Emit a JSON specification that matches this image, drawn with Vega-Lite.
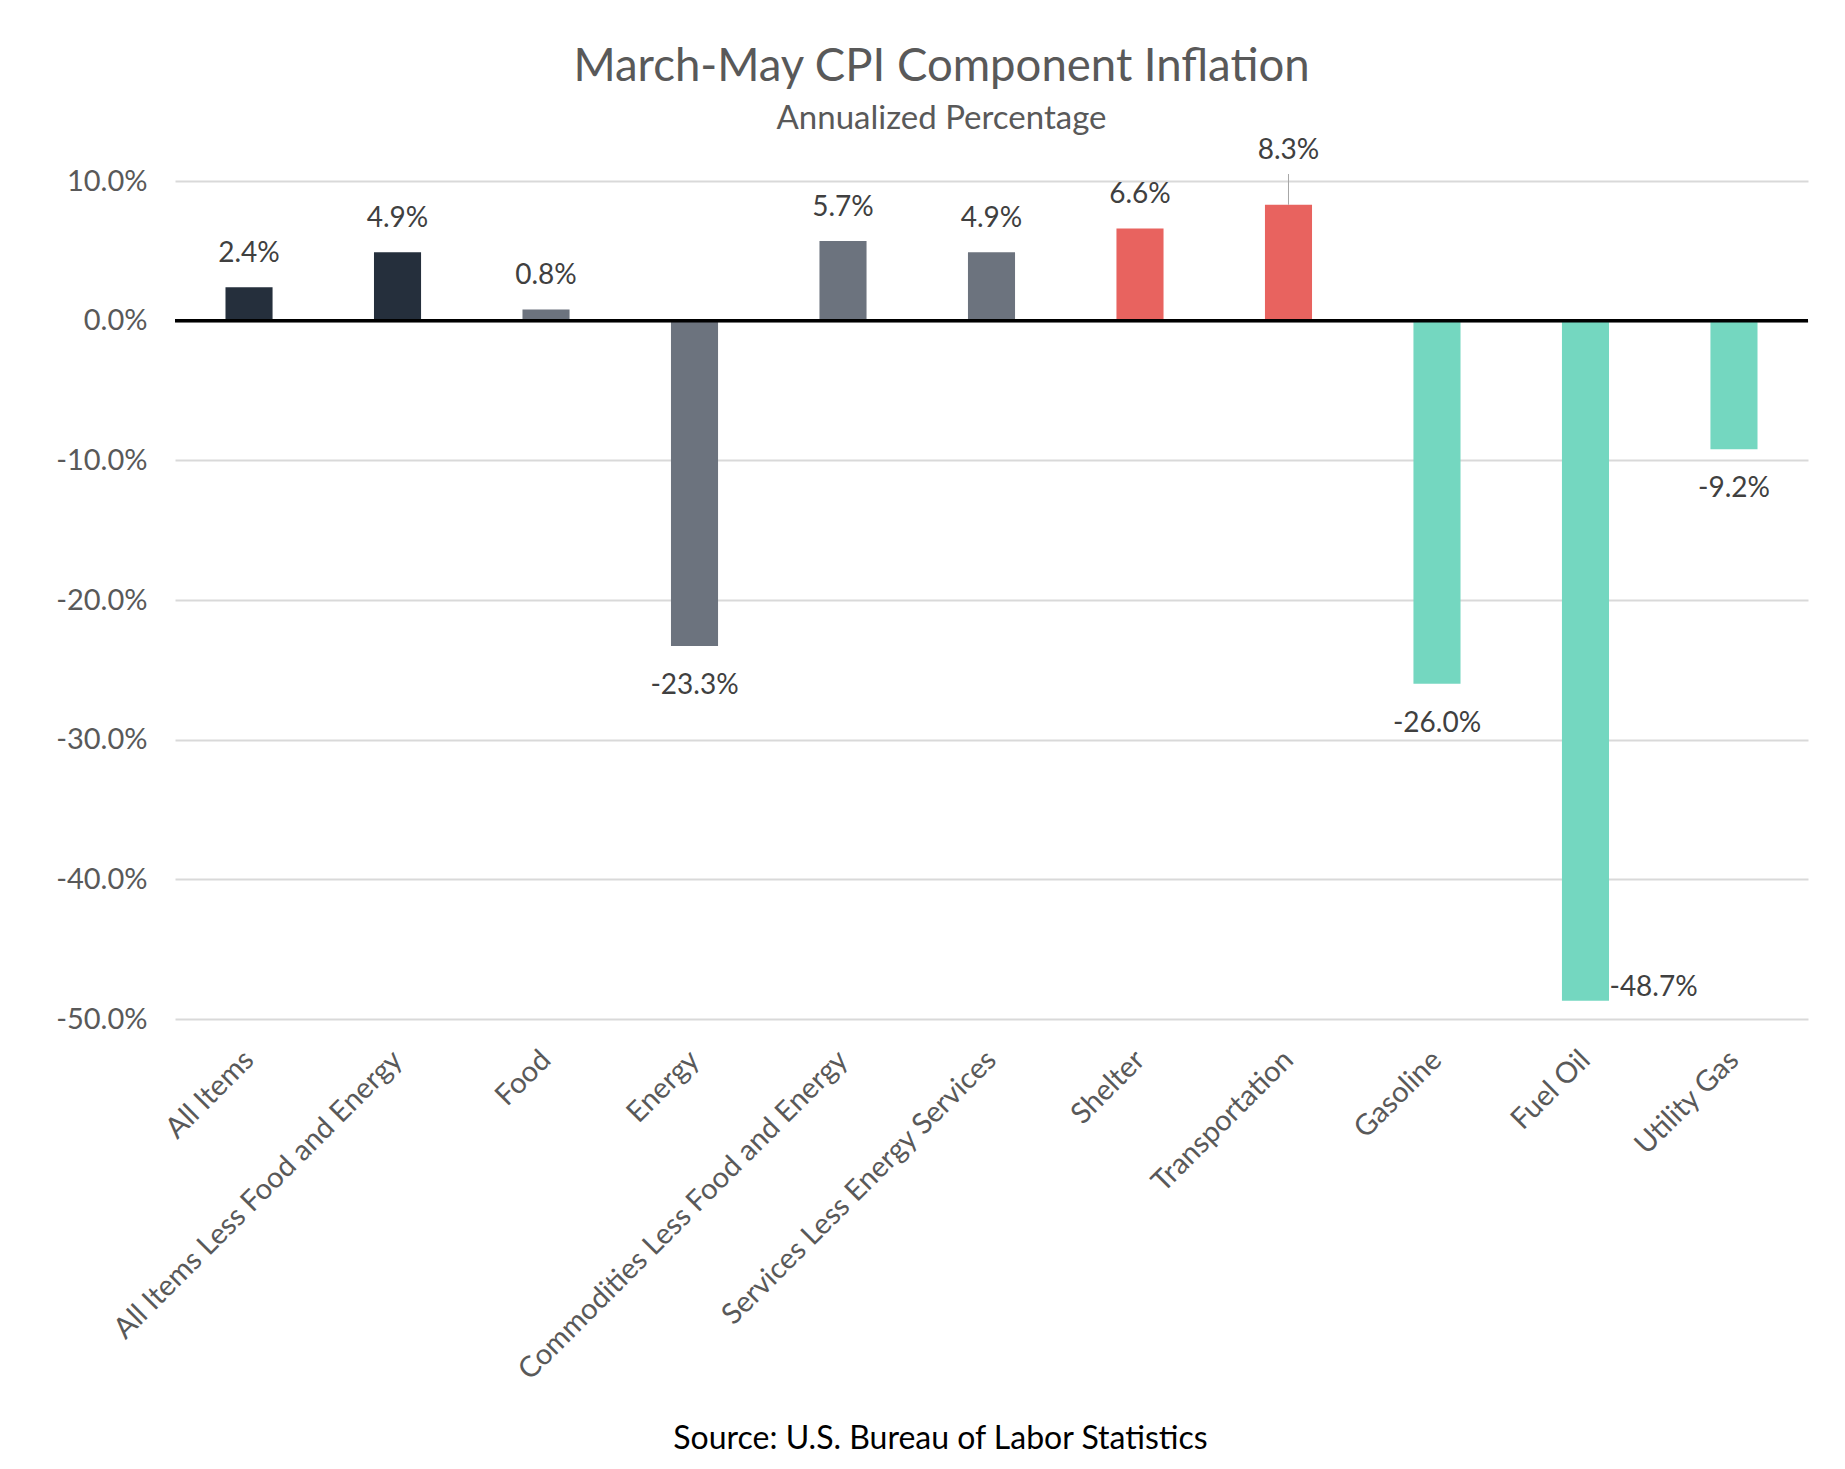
{
  "$schema": "https://vega.github.io/schema/vega-lite/v6.json",
  "width": 1633,
  "height": 838,
  "autosize": {"type": "none"},
  "padding": {"left": 175, "top": 181, "right": 37, "bottom": 450},
  "background": "white",
  "config": {
    "font": "Lato",
    "view": {"stroke": null},
    "locale": {"number": {"decimal": ".", "thousands": ",", "grouping": [3], "currency": ["$", ""], "minus": "-"}}
  },
  "title": {
    "text": "March-May CPI Component Inflation",
    "subtitle": "Annualized Percentage",
    "anchor": "middle",
    "dx": -50,
    "offset": 1,
    "fontSize": 45.5,
    "fontWeight": "normal",
    "color": "#595959",
    "subtitleFontSize": 33,
    "subtitleColor": "#595959",
    "subtitlePadding": 12
  },
  "data": {
    "values": [
      {"category": "All Items", "value": 0.024, "group": "headline"},
      {"category": "All Items Less Food and Energy", "value": 0.049, "group": "headline"},
      {"category": "Food", "value": 0.008, "group": "major"},
      {"category": "Energy", "value": -0.233, "group": "major"},
      {"category": "Commodities Less Food and Energy", "value": 0.057, "group": "major"},
      {"category": "Services Less Energy Services", "value": 0.049, "group": "major"},
      {"category": "Shelter", "value": 0.066, "group": "services"},
      {"category": "Transportation", "value": 0.083, "group": "services"},
      {"category": "Gasoline", "value": -0.26, "group": "energy"},
      {"category": "Fuel Oil", "value": -0.487, "group": "energy"},
      {"category": "Utility Gas", "value": -0.092, "group": "energy"}
    ]
  },
  "layer": [
    {
      "mark": {"type": "bar"},
      "encoding": {
        "x": {
          "field": "category", "type": "nominal", "sort": null,
          "scale": {"paddingInner": 0.683, "paddingOuter": 0.34},
          "axis": {
            "title": "Source: U.S. Bureau of Labor Statistics",
            "titleFontSize": 32,
            "titleColor": "black",
            "titleFontWeight": "normal",
            "titleX": 765,
            "titleY": 419,
            "titleAlign": "center",
            "titleBaseline": "middle",
            "labelAngle": -45,
            "labelAlign": "right",
            "labelBaseline": "middle",
            "labelFontSize": 29,
            "labelColor": "#595959",
            "labelPadding": 36,
            "labelLimit": 0,
            "domain": false,
            "ticks": false,
            "grid": false
          }
        },
        "y": {
          "field": "value", "type": "quantitative",
          "scale": {"domain": [-0.5, 0.1], "nice": false},
          "axis": {
            "values": [-0.5, -0.4, -0.3, -0.2, -0.1, 0, 0.1],
            "format": ".1%",
            "title": null,
            "domain": false,
            "ticks": false,
            "gridColor": "#d9d9d9",
            "gridWidth": 2,
            "labelFontSize": 29,
            "labelColor": "#595959",
            "labelPadding": 28
          }
        },
        "color": {
          "field": "group", "type": "nominal",
          "scale": {"domain": ["headline", "major", "services", "energy"], "range": ["#252F3C", "#6C737E", "#E8635F", "#74D7C0"]},
          "legend": null
        }
      }
    },
    {
      "transform": [{"filter": "datum.category === 'Transportation'"}],
      "mark": {"type": "rule", "color": "#a6a6a6", "strokeWidth": 1},
      "encoding": {
        "x": {"field": "category", "type": "nominal", "sort": null, "bandPosition": 0.5},
        "y": {"field": "value", "type": "quantitative"},
        "y2": {"datum": 0.105}
      }
    },
    {
      "data": {"values": [{"zero": 0}]},
      "mark": {"type": "rule", "color": "black", "strokeWidth": 3.5},
      "encoding": {"y": {"field": "zero", "type": "quantitative"}}
    },
    {
      "transform": [{"filter": "datum.value > 0 && datum.category !== 'Transportation'"}],
      "mark": {"type": "text", "baseline": "middle", "dy": -33, "fontSize": 28, "color": "#404040"},
      "encoding": {
        "x": {"field": "category", "type": "nominal", "sort": null},
        "y": {"field": "value", "type": "quantitative"},
        "text": {"field": "value", "type": "quantitative", "format": ".1%"}
      }
    },
    {
      "transform": [{"filter": "datum.value < 0 && datum.category !== 'Fuel Oil'"}],
      "mark": {"type": "text", "baseline": "middle", "dy": 40, "fontSize": 28, "color": "#404040"},
      "encoding": {
        "x": {"field": "category", "type": "nominal", "sort": null},
        "y": {"field": "value", "type": "quantitative"},
        "text": {"field": "value", "type": "quantitative", "format": ".1%"}
      }
    },
    {
      "transform": [{"filter": "datum.category === 'Transportation'"}],
      "mark": {"type": "text", "baseline": "middle", "dy": -54, "fontSize": 28, "color": "#404040"},
      "encoding": {
        "x": {"field": "category", "type": "nominal", "sort": null},
        "y": {"field": "value", "type": "quantitative"},
        "text": {"field": "value", "type": "quantitative", "format": ".1%"}
      }
    },
    {
      "transform": [{"filter": "datum.category === 'Fuel Oil'"}],
      "mark": {"type": "text", "baseline": "middle", "align": "left", "dx": 24, "dy": -13, "fontSize": 28, "color": "#404040"},
      "encoding": {
        "x": {"field": "category", "type": "nominal", "sort": null},
        "y": {"field": "value", "type": "quantitative"},
        "text": {"field": "value", "type": "quantitative", "format": ".1%"}
      }
    }
  ]
}
